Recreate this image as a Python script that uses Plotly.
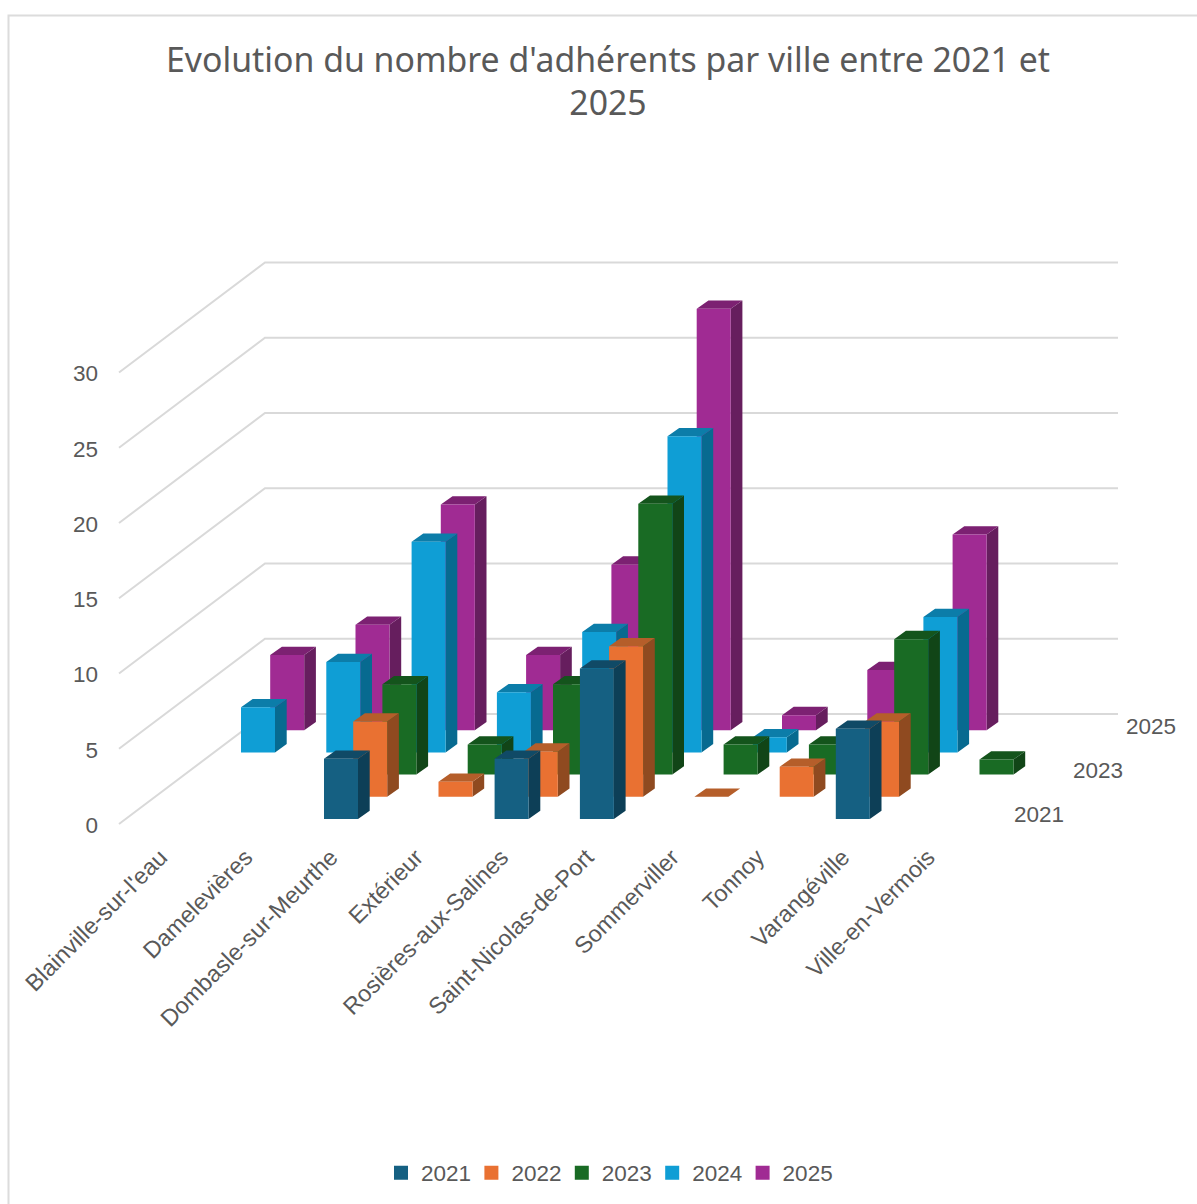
import plotly.graph_objects as go

# ---- data ----
categories = ["Blainville-sur-l'eau", "Damelevières", "Dombasle-sur-Meurthe", "Extérieur",
              "Rosières-aux-Salines", "Saint-Nicolas-de-Port", "Sommerviller", "Tonnoy",
              "Varangéville", "Ville-en-Vermois"]
series_names = ["2021", "2022", "2023", "2024", "2025"]
v2021 = [None, None, 4, None, 4, 10, None, None, 6, None]
v2022 = [None, None, 5, 1, 3, 10, 0, 2, 5, None]
v2023 = [None, None, 6, 2, 6, 18, 2, 2, 9, 1]
v2024 = [3, 6, 14, 4, 8, 21, 1, None, 9, None]
v2025 = [5, 7, 15, 5, 11, 28, 1, 4, 13, None]
series_values = [v2021, v2022, v2023, v2024, v2025]
value_ticks = [0, 5, 10, 15, 20, 25, 30]
depth_labels = ["2021", "2023", "2025"]
depth_label_pos = [0, 2, 4]

# ---- styles ----
front = ["#156082", "#E97132", "#196B24", "#0F9ED5", "#A02B93"]
side = ["#0D3F57", "#8F4A20", "#114517", "#076A90", "#661E5E"]
top = ["#104A66", "#B55E2A", "#14541C", "#0C7DA9", "#7C2172"]
TXT = "#595959"
GRID = "#D9D9D9"
FONT = "Liberation Sans"
TITLE_FONT = "Noto Sans"
W, H = 1197, 1204
PL, PR, PT, PB = 103, 1197, 240, 838      # plot area in page pixels
CAT_PX, VAL_PX = 85.3, 15.05              # pixels per category / per value unit
X0_PX, Y0_PX = 170.4, 824                 # pixel of category 0 / value 0
SER_DX, SER_DY = 29.2 / CAT_PX, 22.2 / VAL_PX   # shift per series
FRONT_DY = 5 / VAL_PX                     # front row sits above axis zero
BAR_W = 34 / CAT_PX
BAR_DX, BAR_DY = 11.7 / CAT_PX, 8.3 / VAL_PX
WALL_DX, WALL_DY = 146 / CAT_PX, 110 / VAL_PX
WALL_X0 = (119 - X0_PX) / CAT_PX
WALL_X1 = (1118 - X0_PX) / CAT_PX
DEPTH_LABEL_PX = [(1012, 814), (1071, 770), (1124, 726)]


def corner(cat, ser, val):
    return cat + ser * SER_DX - BAR_W / 2, val + FRONT_DY + ser * SER_DY


def poly(kind, cat, ser, val):
    x, y = corner(cat, ser, 0)
    w, dx, dy = BAR_W, BAR_DX, BAR_DY
    if kind == "front":
        return [x, x + w, x + w, x, x, None], [y, y, y + val, y + val, y, None]
    if kind == "top":
        t = y + val
        return [x, x + w, x + w + dx, x + dx, x, None], [t, t, t + dy, t + dy, t, None]
    t = y + val
    return [x + w, x + w + dx, x + w + dx, x + w, x + w, None], [y, y + dy, t + dy, t, y, None]


fig = go.Figure()

# back wall and side wall gridlines
gx, gy = [], []
for v in value_ticks:
    gx += [WALL_X0, WALL_X0 + WALL_DX, WALL_X1, None]
    gy += [v, v + WALL_DY, v + WALL_DY, None]
fig.add_trace(go.Scatter(x=gx, y=gy, mode="lines", line=dict(color=GRID, width=2),
                         showlegend=False, hoverinfo="skip"))

# bars, back row first
for s in range(len(series_names) - 1, -1, -1):
    for kind, col in (("side", side[s]), ("top", top[s]), ("front", front[s])):
        xs, ys = [], []
        for c, val in enumerate(series_values[s]):
            if val is None:
                continue
            px, py = poly(kind, c, s, val)
            xs += px
            ys += py
        fig.add_trace(go.Scatter(x=xs, y=ys, mode="lines", fill="toself", fillcolor=col,
                                 line=dict(width=0, color=col), showlegend=False,
                                 name=series_names[s], hoverinfo="skip"))

# legend entries
for s, name in enumerate(series_names):
    fig.add_trace(go.Scatter(x=[None], y=[None], mode="markers", name=name,
                             marker=dict(symbol="square", size=14, color=front[s])))

# depth axis labels
for lab, (px, py) in zip(depth_labels, DEPTH_LABEL_PX):
    fig.add_annotation(x=(px - X0_PX) / CAT_PX, y=(Y0_PX - py) / VAL_PX,
                       text=lab, showarrow=False, xanchor="left", yanchor="middle",
                       font=dict(family=FONT, size=22.5, color=TXT))

ph = PB - PT
pw = PR - PL
fig.update_layout(
    width=W, height=H, autosize=False,
    margin=dict(l=PL, r=W - PR, t=PT, b=H - PB, pad=0),
    paper_bgcolor="white", plot_bgcolor="rgba(0,0,0,0)",
    title=dict(text="Evolution du nombre d'adhérents par ville entre 2021 et<br>2025",
               x=608 / W, xanchor="center", xref="container",
               y=1 - 71.5 / H, yanchor="top", yref="container",
               font=dict(family=TITLE_FONT, size=33.8, color=TXT)),
    font=dict(family=FONT, color=TXT),
    xaxis=dict(range=[(PL - X0_PX) / CAT_PX, (PR - X0_PX) / CAT_PX], tickmode="array",
               tickvals=list(range(len(categories))), ticktext=categories, tickangle=-45,
               ticklabelshift=-10,
               showgrid=False, zeroline=False, showline=False, ticks="",
               tickfont=dict(family=FONT, size=23.4, color=TXT)),
    yaxis=dict(range=[(Y0_PX - PB) / VAL_PX, (Y0_PX - PT) / VAL_PX], tickmode="array",
               tickvals=value_ticks, showgrid=False, zeroline=False, showline=False, ticks="",
               ticklabelstandoff=4, ticklabelshift=1,
               tickfont=dict(family=FONT, size=22.5, color=TXT)),
    legend=dict(orientation="h", x=(607 - PL) / pw, xanchor="center", y=(PB - 1173) / ph,
                yanchor="middle", entrywidth=45.4, entrywidthmode="pixels", traceorder="normal",
                font=dict(family=FONT, size=22.5, color=TXT), itemclick=False, itemdoubleclick=False),
    shapes=[dict(type="path", xref="paper", yref="paper",
                 path=f"M {(8.5 - PL) / pw} {(PB - H) / ph} L {(8.5 - PL) / pw} {(PB - 15.5) / ph} "
                      f"L {(W - PL) / pw} {(PB - 15.5) / ph}",
                 line=dict(color="#DCDCDC", width=2))],
)

fig.write_html("out.html", post_script="document.body.style.margin='0';document.body.style.overflow='hidden';",
               config={"displayModeBar": False})
